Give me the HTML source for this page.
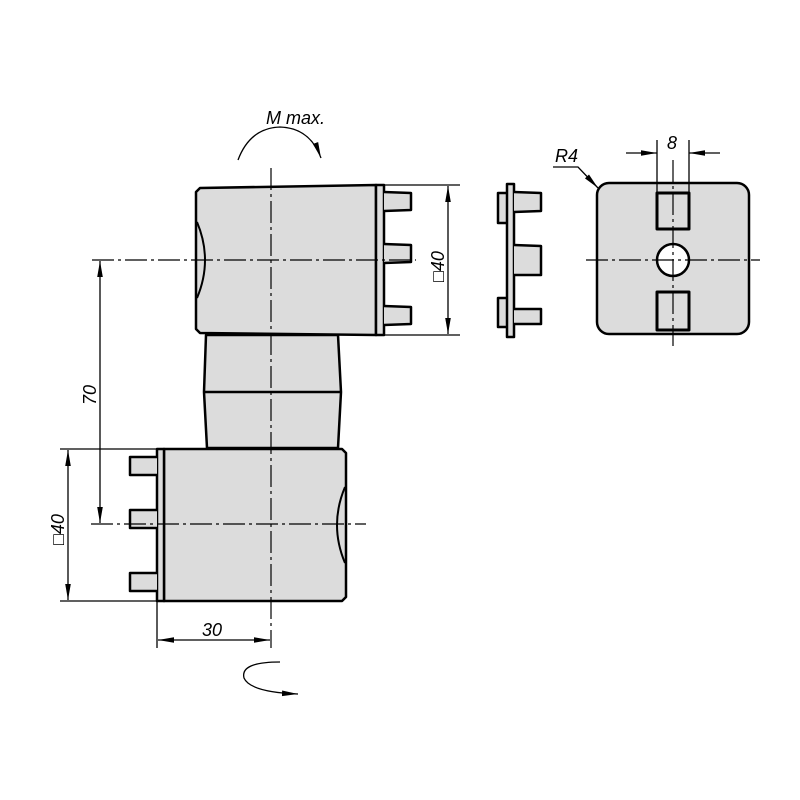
<!DOCTYPE html>
<html><head><meta charset="utf-8"><style>html,body{margin:0;padding:0;background:#fff}svg{display:block}</style></head>
<body>
<svg width="800" height="800" viewBox="0 0 800 800" xmlns="http://www.w3.org/2000/svg" font-family="Liberation Sans, sans-serif" font-style="italic">
<defs>
<marker id="a" viewBox="0 0 10 10" refX="10" refY="5" markerWidth="16" markerHeight="7" markerUnits="userSpaceOnUse" orient="auto-start-reverse" preserveAspectRatio="none"><path d="M0,1 L10,5 L0,9 z" fill="#000"/></marker>
</defs>
<g stroke="#000" fill="#dcdcdc" stroke-width="2.5" stroke-linejoin="round">
<path d="M200,188 L376,185 L376,335 L200,333 L196,329 L196,192 Z"/>
<path d="M197,222 Q213,260 197,298" fill="none" stroke-width="2"/>
<rect x="376" y="185" width="8" height="150"/>
<path d="M384,192 L411,193 L411,210 L384,211"/>
<path d="M384,244 L411,245 L411,262 L384,263"/>
<path d="M384,306 L411,307 L411,324 L384,325"/>
<path d="M206,335 L338,335 L341,392 L338,448 L207,448 L204,392 Z"/>
<line x1="204" y1="392" x2="341" y2="392"/>
<path d="M164,449 L342,449 L346,453 L346,597 L342,601 L164,601 Z"/>
<path d="M345,487 Q329,525 345,563" fill="none" stroke-width="2"/>
<rect x="157" y="449" width="7" height="152"/>
<path d="M157,457 L130,457 L130,475 L157,475"/>
<path d="M157,510 L130,510 L130,528 L157,528"/>
<path d="M157,573 L130,573 L130,591 L157,591"/>
<path d="M507,193 L498,193 L498,223 L507,223"/>
<path d="M507,298 L498,298 L498,327 L507,327"/>
<rect x="507" y="184" width="7" height="153"/>
<path d="M514,192 L541,193 L541,211 L514,212"/>
<path d="M514,245 L541,246 L541,275 L514,275"/>
<path d="M514,309 L541,309 L541,324 L514,324"/>
<rect x="597" y="183" width="152" height="151" rx="12"/>
<rect x="657" y="193" width="32" height="36" stroke-width="3"/>
<rect x="657" y="292" width="32" height="38" stroke-width="3"/>
<circle cx="673" cy="260" r="16" fill="#fff"/>
</g>
<g stroke="#000" stroke-width="1.2" fill="none" stroke-dasharray="22,4,3,4">
<line x1="271" y1="168" x2="271" y2="648"/>
<line x1="92" y1="260" x2="416" y2="260"/>
<line x1="91" y1="524" x2="366" y2="524"/>
<line x1="673" y1="160" x2="673" y2="346"/>
<line x1="586" y1="260" x2="760" y2="260"/>
</g>
<g stroke="#000" stroke-width="1.3" fill="none">
<line x1="384" y1="185" x2="460" y2="185"/>
<line x1="384" y1="335" x2="460" y2="335"/>
<line x1="448" y1="186" x2="448" y2="334" marker-start="url(#a)" marker-end="url(#a)"/>
<line x1="100" y1="261" x2="100" y2="523" marker-start="url(#a)" marker-end="url(#a)"/>
<line x1="60" y1="449" x2="157" y2="449"/>
<line x1="60" y1="601" x2="157" y2="601"/>
<line x1="68" y1="450" x2="68" y2="600" marker-start="url(#a)" marker-end="url(#a)"/>
<line x1="157" y1="601" x2="157" y2="648"/>
<line x1="158" y1="640" x2="270" y2="640" marker-start="url(#a)" marker-end="url(#a)"/>
<line x1="657" y1="140" x2="657" y2="193"/>
<line x1="689" y1="140" x2="689" y2="193"/>
<line x1="626" y1="153" x2="657" y2="153" marker-end="url(#a)"/>
<line x1="720" y1="153" x2="689" y2="153" marker-end="url(#a)"/>
<path d="M553,167 L578,167 L598,188" marker-end="url(#a)"/>
<path d="M238,160 Q250,128 280,127 Q310,128 321,158" marker-end="url(#a)"/>
<path d="M280,662 Q240,662 244,678 Q250,692 298,694" marker-end="url(#a)"/>
</g>
<g font-size="18" fill="#000">
<text x="266" y="124">M max.</text>
<text x="667" y="149">8</text>
<text x="555" y="162">R4</text>
<text x="202" y="636">30</text>
<text transform="translate(96,405) rotate(-90)">70</text>
<text transform="translate(64,545) rotate(-90)">□40</text>
<text transform="translate(444,282) rotate(-90)">□40</text>
</g>
</svg>
</body></html>
